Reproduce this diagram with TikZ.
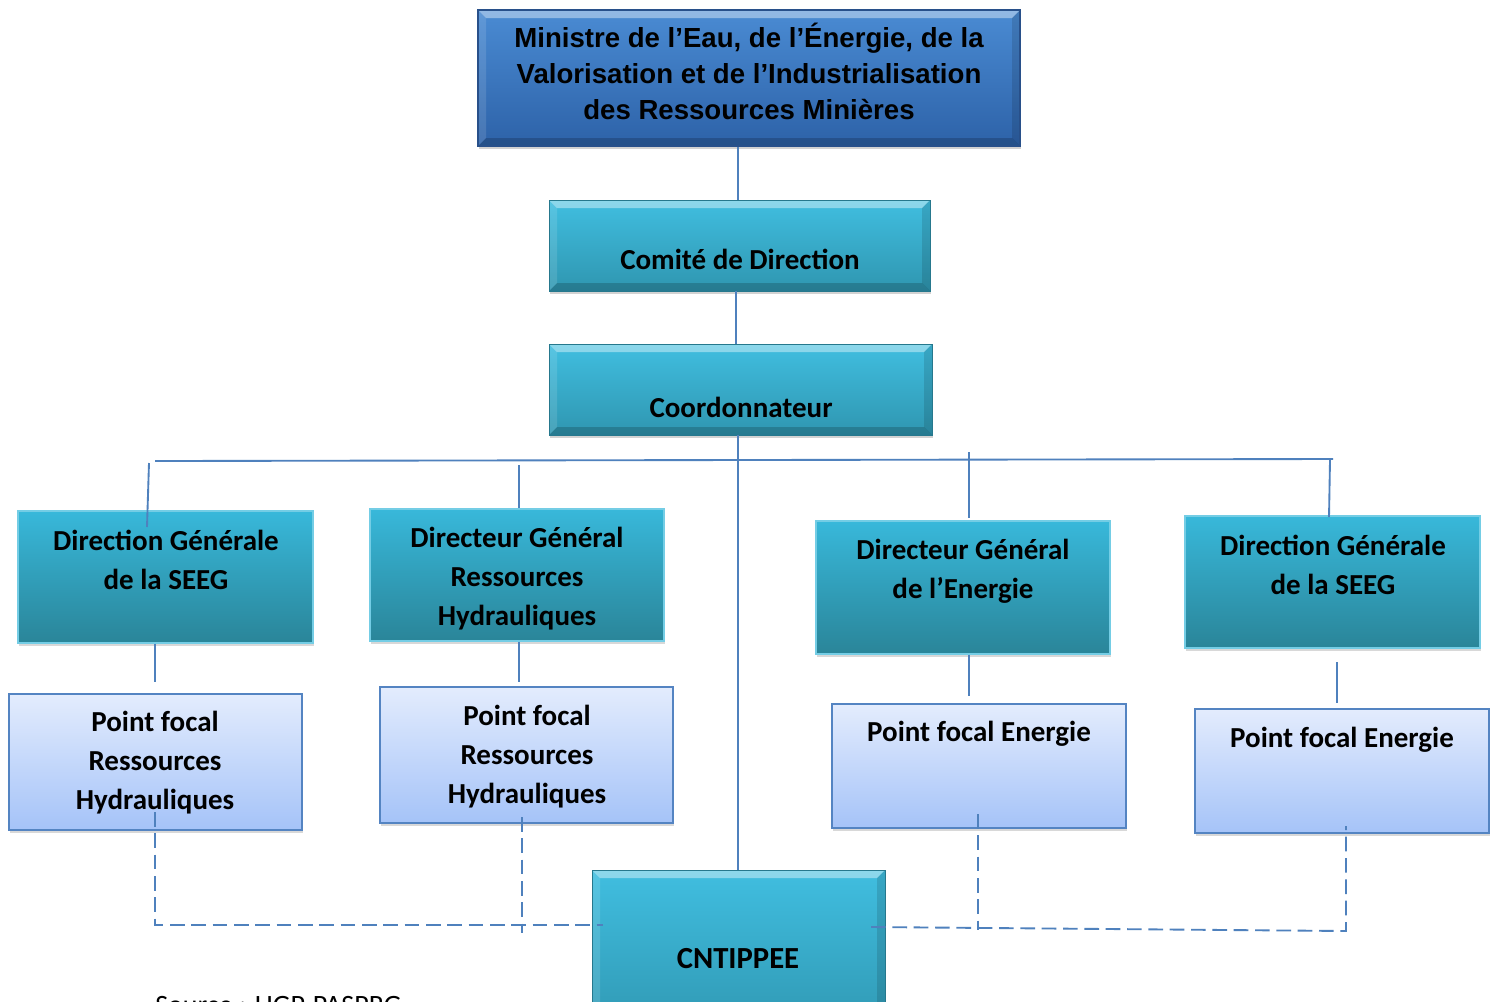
\documentclass[tikz,border=0pt]{standalone}
\usepackage{fontspec}
\setmainfont{Carlito}
\newfontfamily\arialfont{Liberation Sans}
\usetikzlibrary{fit,shadows}
\definecolor{lineblue}{HTML}{4F81BD}
\definecolor{tealtop}{HTML}{38B8DA}
\definecolor{tealbot}{HTML}{2A8599}
\definecolor{teallight}{HTML}{40BEE0}
\definecolor{tealdark}{HTML}{2F96B0}
\definecolor{mintop}{HTML}{4A8BD3}
\definecolor{minbot}{HTML}{2D62A8}
\definecolor{minborder}{HTML}{28508A}
\definecolor{pftop}{HTML}{E3ECFD}
\definecolor{pfbot}{HTML}{A5C3F8}
\definecolor{pfborder}{HTML}{5484C2}
\tikzset{
  conn/.style={draw=lineblue, line width=1.4pt},
  dashconn/.style={draw=lineblue, line width=1.4pt, dash pattern=on 11pt off 5pt},
  bevel/.style={path picture={
    \fill[white,opacity=0.4] (path picture bounding box.north west) -- (path picture bounding box.north east)
      -- ([shift={(-6pt,-6pt)}]path picture bounding box.north east) -- ([shift={(6pt,-6pt)}]path picture bounding box.north west) -- cycle;
    \fill[black,opacity=0.18] (path picture bounding box.south west) -- (path picture bounding box.south east)
      -- ([shift={(-6pt,6pt)}]path picture bounding box.south east) -- ([shift={(6pt,6pt)}]path picture bounding box.south west) -- cycle;
    \fill[white,opacity=0.12] (path picture bounding box.north west) -- ([shift={(6pt,-6pt)}]path picture bounding box.north west)
      -- ([shift={(6pt,6pt)}]path picture bounding box.south west) -- (path picture bounding box.south west) -- cycle;
    \fill[black,opacity=0.12] (path picture bounding box.north east) -- ([shift={(-6pt,-6pt)}]path picture bounding box.north east)
      -- ([shift={(-6pt,6pt)}]path picture bounding box.south east) -- (path picture bounding box.south east) -- cycle;
  }},
  minbox/.style={inner sep=0pt, top color=mintop, bottom color=minbot, draw=minborder, line width=1.2pt, bevel,
    drop shadow={shadow xshift=1pt, shadow yshift=-2.5pt, opacity=0.35}},
  bevbox/.style={inner sep=0pt, top color=teallight, bottom color=tealdark, draw=tealdark!80!black, line width=0.6pt, bevel,
    drop shadow={shadow xshift=1pt, shadow yshift=-2.5pt, opacity=0.35}},
  tealbox/.style={inner sep=0pt, top color=tealtop, bottom color=tealbot, draw=tealtop!70!white, line width=0.8pt,
    drop shadow={shadow xshift=1pt, shadow yshift=-2.5pt, opacity=0.3}},
  pfbox/.style={inner sep=0pt, top color=pftop, bottom color=pfbot, draw=pfborder, line width=1.2pt,
    drop shadow={shadow xshift=1pt, shadow yshift=-2.5pt, opacity=0.3}},
  lbl/.style={inner sep=0pt, align=center, font=\bfseries\fontsize{21.75}{29.25}\selectfont},
  toplbl/.style={inner sep=0pt, align=center, font=\arialfont\bfseries\fontsize{20.7}{27}\selectfont}
}
\begin{document}
\begin{tikzpicture}[x=0.75pt, y=-0.75pt]
\useasboundingbox (0,0) rectangle (1494,1001);
\clip (0,0) rectangle (1494,1001);
\fill[white] (0,0) rectangle (1494,1001);

% boxes
\node[minbox, fit={(478,10) (1020,146)}] (min) {};
\node[bevbox, fit={(549,200) (930,291)}] (com) {};
\node[bevbox, fit={(549,344) (932,435)}] (coord) {};
\node[tealbox, fit={(18,511) (313,643)}] (dg1) {};
\node[tealbox, fit={(370,509) (664,641)}] (dg2) {};
\node[tealbox, fit={(816,521) (1110,654)}] (dg3) {};
\node[tealbox, fit={(1185,516) (1480,648)}] (dg4) {};
\node[pfbox, fit={(9,694) (302,830)}] (pf1) {};
\node[pfbox, fit={(380,687) (673,823)}] (pf2) {};
\node[pfbox, fit={(832,704) (1126,828)}] (pf3) {};
\node[pfbox, fit={(1195,709) (1489,833)}] (pf4) {};

% solid connectors
\draw[conn] (min.south -| 738,0) -- (com.north -| 738,0);
\draw[conn] (com.south -| 736,0) -- (coord.north -| 736,0);
\coordinate (busL) at (155,461);
\coordinate (busR) at (1333,459);
\draw[conn] (busL) -- (busR);
\coordinate (v1a) at (149,463); \coordinate (v1b) at (147,527);
\coordinate (v2a) at (519,465); \coordinate (v2b) at (519,508);
\coordinate (v3a) at (969,452); \coordinate (v3b) at (969,518);
\coordinate (v4a) at (1330,460); \coordinate (v4b) at (1329,517);
\draw[conn] (v1a) -- (v1b);
\draw[conn] (v2a) -- (v2b);
\draw[conn] (v3a) -- (v3b);
\draw[conn] (v4a) -- (v4b);
\coordinate (w1) at (155,682);
\coordinate (w2) at (519,682);
\coordinate (w3) at (969,696);
\coordinate (w4) at (1337,703);
\coordinate (u4) at (1337,662);
\draw[conn] (dg1.south -| w1) -- (w1);
\draw[conn] (dg2.south -| w2) -- (w2);
\draw[conn] (dg3.south -| w3) -- (w3);
\draw[conn] (u4) -- (w4);

% CNTIPPEE box
\node[bevbox, fit={(592,870) (885,1040)}] (cnt) {};
\draw[conn] (coord.south -| 738,0) -- (cnt.north -| 738,0);

% dashed connectors
\coordinate (d1a) at (155,812); \coordinate (d1b) at (155,925); \coordinate (d1c) at (603,925);
\coordinate (d2a) at (522,817); \coordinate (d2b) at (522,933);
\coordinate (d3a) at (978,814); \coordinate (d3b) at (978,930);
\coordinate (d4a) at (1346,826); \coordinate (d4b) at (1346,931);
\coordinate (dr) at (871,927);
\draw[dashconn] (d1a) -- (d1b) -- (d1c);
\draw[dashconn] (d2a) -- (d2b);
\draw[dashconn] (dr) -- (d4b) -- (d4a);
\draw[dashconn] (d3a) -- (d3b);

% labels
\node[toplbl] (tmin) at (749,71) {Ministre de l’Eau, de l’Énergie, de la\\Valorisation et de l’Industrialisation\\des Ressources Minières};
\node[lbl] (tcom) at (740,259) {Comité de Direction};
\node[lbl] (tcoord) at (741,407) {Coordonnateur};
\node[lbl, font=\bfseries\fontsize{23}{29.25}\selectfont] (tcnt) at (738,959) {CNTIPPEE};
\node[lbl] (tdg1) at (166,560) {Direction Générale\\de la SEEG};
\node[lbl] (tdg2) at (517,579) {Directeur Général\\Ressources\\Hydrauliques};
\node[lbl] (tdg3) at (963,571) {Directeur Général\\de l’Energie};
\node[lbl] (tdg4) at (1333,565) {Direction Générale\\de la SEEG};
\node[lbl] (tpf1) at (155,763) {Point focal\\Ressources\\Hydrauliques};
\node[lbl] (tpf2) at (527,757) {Point focal\\Ressources\\Hydrauliques};
\node[lbl] (tpf3) at (979,734) {Point focal Energie};
\node[lbl] (tpf4) at (1342,740) {Point focal Energie};
\node[inner sep=0pt, anchor=base west, font=\fontsize{21}{25}\selectfont] (src) at (155,1014) {Source : UGP-PASPRG};
\end{tikzpicture}
\end{document}
